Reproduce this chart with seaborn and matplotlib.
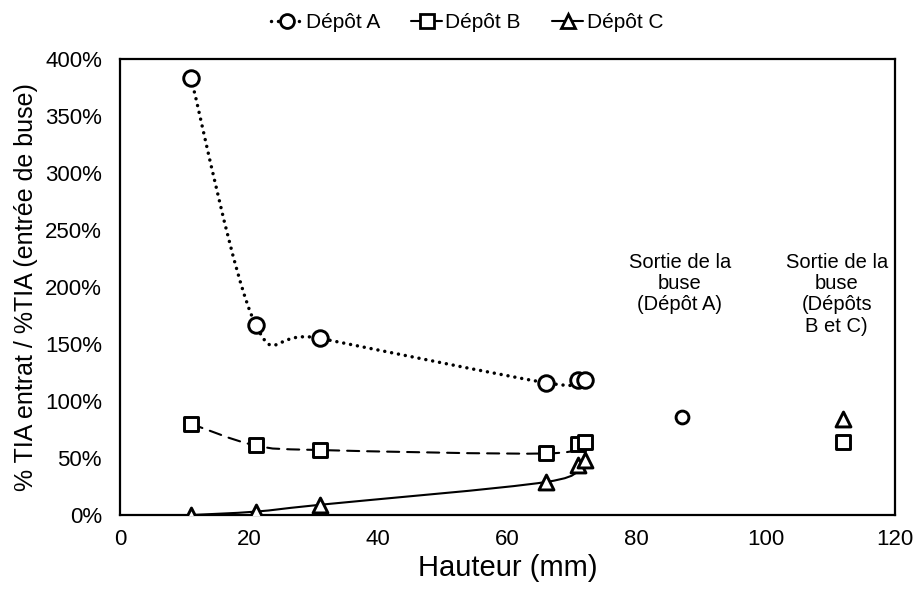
import numpy as np
import pandas as pd
import matplotlib
matplotlib.use('Agg')
import matplotlib.pyplot as plt
from matplotlib.path import Path
from matplotlib.patches import PathPatch
from matplotlib.lines import Line2D
from matplotlib.ticker import FuncFormatter
import seaborn as sns

# hauteur (mm) des points le long de la buse
hauteur = [11, 21, 31, 66, 71, 72]
depot_a = [383, 167, 155, 116, 118, 118]
depot_b = [80, 61, 57, 54, 62, 64]
depot_c = [0, 3, 9, 29, 44, 48]

# sortie de la buse
sortie_x_a = 87
sortie_a = 86
sortie_x_bc = 112
sortie_b = 64
sortie_c = 84

series_names = ['Dépôt A', 'Dépôt B', 'Dépôt C']

sns.set_theme(style='white')
plt.rcParams['font.family'] = ['Liberation Sans', 'DejaVu Sans']
plt.rcParams['text.color'] = 'black'
plt.rcParams['axes.labelcolor'] = 'black'


def smooth_path(x, y):
    # courbe lissée type Excel (Catmull-Rom -> Bezier)
    pts = np.column_stack([x, y]).astype(float)
    ext = np.vstack([pts[0], pts, pts[-1]])
    verts = [pts[0]]
    codes = [Path.MOVETO]
    for i in range(len(pts) - 1):
        p0, p1, p2, p3 = ext[i], ext[i + 1], ext[i + 2], ext[i + 3]
        verts += [p1 + (p2 - p0) / 6, p2 - (p3 - p1) / 6, p2]
        codes += [Path.CURVE4] * 3
    return Path(verts, codes)


fig = plt.figure(figsize=(9.16, 5.93), dpi=100)
ax = fig.add_axes([0.131, 0.1315, 0.846, 0.769])

dot_style = (0, (0.01, 2.0))
styles = [
    (depot_a, 'o', dot_style, 2.5, 125),
    (depot_b, 's', (0, (5.8, 3.8)), 1.5, 105),
    (depot_c, '^', '-', 1.5, 115),
]

for vals, mk, ls, lw, size in styles:
    patch = PathPatch(smooth_path(hauteur, vals), fill=False, edgecolor='black',
                      linewidth=lw, linestyle=ls, capstyle='round', zorder=2)
    ax.add_patch(patch)
    df = pd.DataFrame({'x': hauteur, 'y': vals})
    sns.scatterplot(data=df, x='x', y='y', marker=mk, s=size, color='white',
                    edgecolor='black', linewidth=2.1, zorder=3, ax=ax)

sns.scatterplot(x=[sortie_x_a], y=[sortie_a], marker='o', s=85, color='white',
                edgecolor='black', linewidth=2.1, zorder=3, ax=ax)
sns.scatterplot(x=[sortie_x_bc], y=[sortie_b], marker='s', s=105, color='white',
                edgecolor='black', linewidth=2.1, zorder=3, ax=ax)
sns.scatterplot(x=[sortie_x_bc], y=[sortie_c], marker='^', s=115, color='white',
                edgecolor='black', linewidth=2.1, zorder=3, ax=ax)

ax.text(86.7, 230, 'Sortie de la\nbuse\n(Dépôt A)', ha='center', va='top',
        fontsize=14.5, linespacing=1.15)
ax.text(111.0, 230, 'Sortie de la\nbuse\n(Dépôts\nB et C)', ha='center', va='top',
        fontsize=14.5, linespacing=1.15)

ax.set_xlim(0, 120)
ax.set_ylim(0, 400)
ax.set_xticks(range(0, 121, 20))
ax.set_yticks(range(0, 401, 50))
ax.yaxis.set_major_formatter(FuncFormatter(lambda v, p: f'{v:.0f}%'))
ax.tick_params(axis='both', direction='in', length=5, width=1.5, colors='black',
               labelsize=16)
ax.tick_params(axis='x', pad=10)
ax.tick_params(axis='y', pad=13)
for sp in ax.spines.values():
    sp.set_visible(True)
    sp.set_linewidth(1.6)
    sp.set_color('black')

ax.set_xlabel('Hauteur (mm)', fontsize=21, labelpad=3)
ax.set_ylabel('% TIA entrat / %TIA (entrée de buse)', fontsize=18, labelpad=5)

handles = [
    Line2D([], [], color='black', linestyle=dot_style, linewidth=2.5,
           dash_capstyle='round', marker='o', markersize=10, markerfacecolor='white',
           markeredgewidth=2.0),
    Line2D([], [], color='black', linestyle='-', linewidth=1.5, marker='s',
           markersize=9.5, markerfacecolor='white', markeredgewidth=2.0),
    Line2D([], [], color='black', linestyle='-', linewidth=1.5, marker='^',
           markersize=10, markerfacecolor='white', markeredgewidth=2.0),
]
fig.legend(handles, series_names, loc='upper center', bbox_to_anchor=(0.51, 1.01),
           ncol=3, frameon=False, fontsize=15, handlelength=1.5, handletextpad=0.15,
           columnspacing=1.5)

fig.savefig('out.png', dpi=100)
